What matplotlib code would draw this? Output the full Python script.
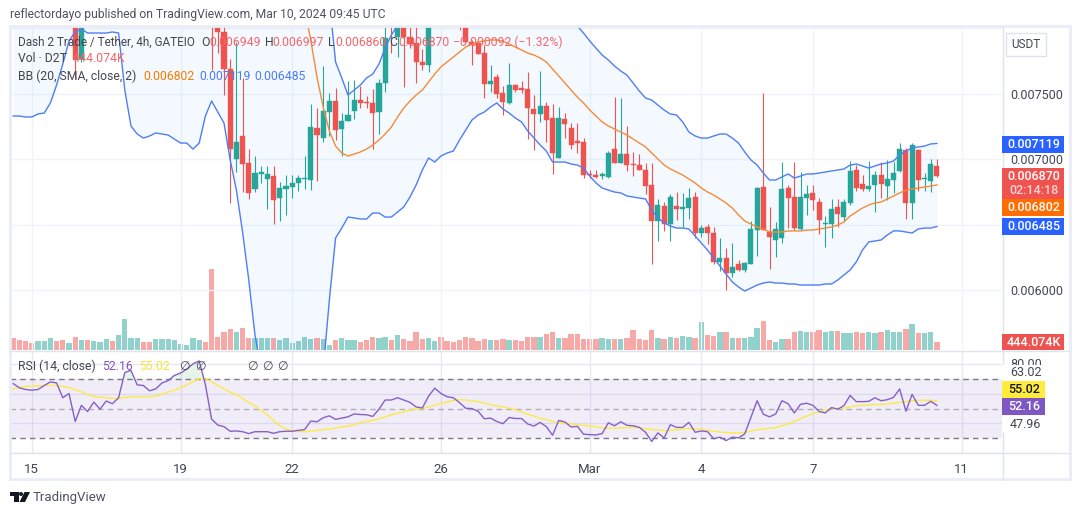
import numpy as np
import matplotlib
matplotlib.use('Agg')
import matplotlib.pyplot as plt
from matplotlib.patches import Rectangle, Polygon, Circle

plt.rcParams['font.family'] = ['Roboto', 'DejaVu Sans']
nan = float('nan')

# prices in millionths of USDT, nan = bar sits above the visible range
opens = [nan]*10 + [8100, 7764] + [nan]*20 + [
    8150, 8100, 7970, 7687, 7000, 7176, 6970, 6771, 6886, 6847, 6870, 6702, 6771, 6786, 6817, 6847, 6840, 7237,
    7160, 7359, 7443, 7229, 7290, 7367, 7450, 7435, 7428, 7359, 7580, 8100, 7932, 8050, 7932, 7886, 7741, 7718] + [nan]*4 + [
    8100, 8100, 7893, 7886, 7809, 7573, 7626, 7504, 7428, 7565, 7542, 7535, 7382, 7344, 7405, 7313, 7008, 7305,
    7237, 7138, 7130, 6886, 6878, 6870, 6863, 7076, 6970, 7038, 6962, 6954, 6916, 6802, 6527, 6641, 6504, 6641,
    6618, 6626, 6710, 6435, 6481, 6435, 6214, 6244, 6130, 6199, 6153, 6199, 6458, 6786, 6443, 6382, 6397, 6779,
    6710, 6466, 6702, 6741, 6672, 6504, 6504, 6634, 6557, 6664, 6916, 6809, 6771, 6802, 6878, 6794, 6840, 6909,
    7069, 6664, 7069, 6847, 6832, 6949]
highs = [nan]*10 + [8150, 8150] + [nan]*20 + [
    8200, 8150, 8050, 7764, 7893, 7619, 7076, 7023, 6947, 6947, 6947, 6825, 6878, 6878, 6878, 7023, 7420, 7389,
    7710, 7504, 7542, 7351, 7596, 7603, 7557, 7481, 7535, 7611, 8060, 8150, 8120, 8120, 8050, 8030, 7840, 8100] + [nan]*4 + [
    8120, 8120, 7909, 7901, 7870, 7718, 7649, 7557, 7733, 7573, 7596, 7664, 7489, 7672, 7435, 7420, 7397, 7351,
    7275, 7275, 7160, 6916, 6916, 6901, 7061, 7473, 7466, 7252, 7053, 7038, 6970, 6970, 6695, 6672, 6733, 6748,
    6741, 6779, 6748, 6496, 6504, 6481, 6397, 6321, 6359, 6229, 6214, 6527, 6786, 7504, 6634, 6519, 6977, 6802,
    6977, 6901, 6802, 6802, 6702, 6565, 6695, 6695, 6695, 6985, 6954, 6878, 6985, 6909, 6977, 6993, 6977, 7122,
    7084, 7122, 7076, 6893, 7000, 6997]
lows = [nan]*10 + [7611, 7741] + [nan]*20 + [
    7680, 7809, 7489, 6664, 6901, 6748, 6695, 6748, 6817, 6618, 6504, 6527, 6573, 6702, 6756, 6771, 6763, 6832,
    7130, 7176, 7145, 7023, 7290, 7305, 7389, 7389, 7076, 7191, 7512, 7809, 7779, 7550, 7848, 7580, 7680, 7664] + [nan]*4 + [
    7985, 7893, 7718, 7802, 7466, 7512, 7466, 7336, 7420, 7512, 7504, 7153, 7069, 7283, 7130, 6886, 7008, 7160,
    7076, 7046, 6855, 6855, 6855, 6847, 6855, 6970, 6970, 6909, 6870, 6916, 6733, 6199, 6374, 6450, 6374, 6534,
    6481, 6542, 6397, 6405, 6351, 6199, 6145, 6000, 6099, 6145, 6138, 6199, 6260, 6458, 6160, 6252, 6359, 6473,
    6458, 6458, 6573, 6611, 6428, 6328, 6397, 6481, 6527, 6649, 6756, 6756, 6756, 6596, 6702, 6687, 6741, 6901,
    6542, 6542, 6756, 6756, 6748, 6860]
closes = [nan]*10 + [7756, 8100] + [nan]*20 + [
    8060, 7970, 7687, 7076, 7130, 6962, 6741, 6893, 6901, 6886, 6687, 6779, 6794, 6817, 6855, 6855, 7244, 7183,
    7367, 7443, 7222, 7290, 7336, 7450, 7428, 7428, 7351, 7580, 7924, 8030, 8050, 7932, 7878, 7741, 7718, 8040] + [nan]*4 + [
    8050, 7893, 7870, 7802, 7573, 7596, 7496, 7435, 7565, 7527, 7527, 7389, 7344, 7405, 7298, 7046, 7313, 7267,
    7107, 7122, 6878, 6878, 6863, 6886, 7046, 6970, 7038, 6954, 6954, 6916, 6794, 6527, 6649, 6504, 6710, 6618,
    6634, 6702, 6435, 6473, 6435, 6214, 6244, 6130, 6176, 6153, 6206, 6466, 6779, 6458, 6405, 6466, 6771, 6702,
    6473, 6710, 6733, 6687, 6534, 6512, 6618, 6580, 6672, 6909, 6779, 6771, 6794, 6878, 6809, 6847, 6893, 7076,
    6664, 7107, 6840, 6855, 6962, 6870]

# Bollinger bands, same units
bb_upper = [nan]*51 + [
    8214, 7741, 7619, 7489, 7527, 7565, 7619, 7649, 7725, 7848, 7947, 8023] + [nan]*28 + [
    8016, 7962, 7901, 7848, 7794, 7756, 7710, 7672, 7641, 7580, 7519, 7466, 7450, 7412, 7374, 7344, 7336, 7283,
    7206, 7176, 7160, 7160, 7176, 7191, 7191, 7160, 7122, 7054, 6993, 6954, 6893, 6840, 6840, 6863, 6886, 6855,
    6870, 6886, 6886, 6893, 6901, 6909, 6916, 6924, 6954, 6962, 6947, 6931, 6947, 6962, 6970, 6985, 7031, 7061,
    7084, 7092, 7099, 7115, 7119]
bb_basis = [nan]*47 + [
    8140, 7909, 7626, 7397, 7214, 7099, 7046, 7023, 7038, 7054, 7076, 7107, 7145, 7191, 7244, 7321, 7389, 7443,
    7489, 7527, 7588, 7649, 7703, 7741, 7779, 7817, 7855, 7878, 7893, 7901, 7909, 7909, 7901, 7878, 7855, 7832,
    7809, 7794, 7771, 7741, 7687, 7634, 7580, 7527, 7473, 7428, 7374, 7328, 7283, 7252, 7229, 7206, 7183, 7153,
    7122, 7092, 7046, 7000, 6954, 6924, 6901, 6878, 6847, 6817, 6779, 6748, 6725, 6695, 6664, 6626, 6573, 6527,
    6504, 6481, 6466, 6443, 6443, 6443, 6451, 6451, 6451, 6458, 6458, 6466, 6473, 6481, 6496, 6519, 6565, 6596,
    6626, 6649, 6664, 6672, 6695, 6718, 6741, 6763, 6771, 6779, 6786, 6794, 6802]
bb_lower = [
    7328, 7328, 7321, 7321, 7344, 7351, 7428, 7565, 7725, 7901, 7970, 7993, 7962, 7962, 7962, 7962, 7970, 7962,
    7527, 7252, 7191, 7160, 7176, 7199, 7191, 7183, 7153, 7122, 7122, 7076, 7122, 7328, 7443, 7359, 7275, 6993,
    6763, 6443, 6076, 5657, 5389] + [nan]*9 + [
    5389, 5924, 6397, 6473, 6557, 6550, 6542, 6542, 6588, 6588, 6557, 6557, 6596, 6634, 6710, 6802, 6916, 7008,
    6977, 7023, 7046, 7061, 7145, 7222, 7298, 7336, 7359, 7397, 7428, 7382, 7351, 7313, 7283, 7214, 7160, 7107,
    7061, 6977, 6977, 6977, 6962, 6954, 6931, 6870, 6817, 6779, 6763, 6748, 6741, 6718, 6710, 6702, 6695, 6611,
    6550, 6512, 6489, 6473, 6473, 6466, 6412, 6359, 6305, 6244, 6183, 6122, 6061, 6023, 5992, 6015, 6038, 6053,
    6061, 6053, 6053, 6046, 6046, 6038, 6038, 6038, 6038, 6046, 6046, 6076, 6115, 6153, 6214, 6305, 6367, 6374,
    6382, 6420, 6451, 6451, 6443, 6435, 6466, 6473, 6473, 6485]

# volume in thousands of D2T
volumes = [
    666, 555, 516, 405, 500, 500, 666, 516, 555, 405, 722, 555, 555, 500, 444, 611, 500, 833, 1721, 666, 666, 444,
    444, 594, 611, 611, 555, 333, 278, 666, 555, 444, 4496, 722, 999, 1166, 999, 1221, 666, 666, 666, 666, 666, 555,
    666, 389, 500, 722, 611, 666, 611, 278, 555, 666, 555, 555, 444, 555, 722, 666, 722, 555, 833, 611, 500, 999,
    611, 666, 500, 722, 500, 444, 555, 722, 666, 500, 611, 555, 555, 611, 555, 555, 500, 722, 722, 722, 888, 999,
    666, 666, 888, 888, 611, 611, 611, 666, 611, 611, 611, 666, 1110, 611, 555, 1110, 666, 611, 722, 666, 777, 722,
    666, 1554, 833, 777, 999, 999, 666, 666, 666, 722, 1221, 1610, 555, 444, 611, 611, 999, 1055, 999, 999, 1110,
    999, 1055, 1055, 944, 944, 999, 944, 999, 944, 999, 1110, 999, 999, 1166, 1443, 944, 944, 999, 444]
vol_dir = ("rrrr ggg rr g r g r ggg r gggg rr gggggggg rrrrr g rr ggg r gggggg r gg r ggg rrr gg r g rrrr gg "
           "rrrrrrrr g rr g rrrr g rr g rrrrrr gg r g rrrrr g r g r gg r g rr g r g r ggg rr gg rr gg rr gg r gg "
           "rr gg r ggg r g r gg r").replace(" ", "")

rsi = [
    66.9, 64, 62.9, 62.4, 62.9, 65.6, 68, 67.3, 57.3, 60.2, 41.3, 52.2, 48, 54.4, 49.6, 55.1, 53.3, 57.3, 74.4, 75.8,
    66, 65.6, 62, 63.3, 67.3, 68.9, 72.4, 74, 76.7, 80.2, 82.2, 66.2, 42.9, 38.9, 37.8, 34.7, 34.9, 34.4, 33.1, 34.4,
    34.4, 34.4, 33.3, 34.4, 34.7, 34.7, 35.3, 35.8, 41.6, 41.1, 43.8, 45.1, 42.7, 43.6, 44.4, 46.4, 46, 45.8, 44.7, 49.6,
    55.8, 55.8, 57.3, 55.8, 54.2, 51.1, 50.4, 58.4, 63.8, 60.2, 58, 57.3, 54, 50.2, 50, 48.2, 43.1, 43.6, 41.3, 39.8,
    44, 43.3, 43.3, 39.6, 38.2, 40.7, 37.8, 32, 42, 40.9, 37.6, 38, 32.7, 32.4, 32.2, 33.1, 40.4, 38.4, 41.1, 38.7,
    38.4, 37.3, 34, 27.8, 33.6, 30.2, 39.1, 37.3, 37.3, 40.7, 34, 34.9, 34.4, 29.6, 30.7, 28.4, 30.7, 30.2, 32.9, 44,
    55.3, 46.2, 44.4, 46.4, 55.3, 53.3, 47.1, 52.9, 53.6, 52.2, 48, 47.1, 50.7, 49.6, 52, 58.9, 54.7, 54.7, 54.9, 57.3,
    55.3, 56, 57.6, 63.3, 48.2, 59.6, 52.2, 52.2, 54.9, 52.16]
rsi_ma = [
    63.3, 64.4, 64.9, 65.3, 65.3, 65.6, 65.6, 65.6, 64.9, 64.2, 62.7, 61.3, 59.6, 58.2, 57.8, 57.3, 56.9, 56.7, 57.6, 58,
    58, 58, 58, 58.4, 59.8, 61.1, 62.4, 64.2, 66, 68.2, 70.2, 70.4, 68, 65.6, 63.3, 61.1, 59.3, 56.9, 54.2, 51.6,
    48.7, 45.8, 42, 38.4, 36.2, 35.1, 34.7, 34.4, 34.9, 35.3, 35.8, 36.2, 36.9, 37.6, 38.2, 38.9, 40.7, 41.3, 42, 43.1,
    44.4, 45.8, 46.9, 47.8, 48.9, 49.6, 50, 51.1, 52.4, 53.6, 54.4, 55.6, 56, 55.8, 55.3, 54.7, 53.6, 52.7, 51.8, 51.1,
    50.2, 49.3, 47.8, 46.2, 44.9, 43.6, 42.4, 41.3, 40.4, 40, 39.6, 39.1, 38.7, 38.2, 37.8, 37.1, 36.7, 36.7, 36.9, 37.1,
    37.3, 37.1, 36.4, 35.8, 35.6, 35.1, 35.3, 35.8, 36.2, 36.7, 36.2, 36, 35.3, 34.7, 34.2, 33.8, 33.6, 33.6, 33.8, 34.9,
    35.8, 36.2, 36.7, 37.1, 38.4, 39.8, 41.3, 43.1, 44.9, 46.7, 47.8, 49.1, 50, 50, 50.4, 51.1, 52, 52.2, 52.4, 52.7,
    52.9, 53.1, 53.6, 54.2, 54.7, 55.3, 55.6, 55.6, 55.6, 55.02]

date_bars = [3, 27, 45, 69, 93, 111, 129, 153]
date_labels = ['15', '19', '22', '26', 'Mar', '4', '7', '11']
price_ticks = [6000, 6500, 7000, 7500, 8000]
price_labels = ['0.006000', '', '0.007000', '0.007500', '']
rsi_grid = [20, 40, 60, 80]

GREEN, RED = '#26a69a', '#ef5350'
GRID = '#f0f3fa'
TEXT = '#434651'
BLUE, ORANGE = '#4f7ef5', '#f88a35'

o, h, l, c = [np.array(a, dtype=float) * 1e-6 for a in (opens, highs, lows, closes)]
upper, basis, lower = [np.array(a, dtype=float) * 1e-6 for a in (bb_upper, bb_basis, bb_lower)]
bars = np.arange(len(c))
y_lo, y_hi = 0.005542, 0.008008
x_lo, x_hi = -0.516, 159.5

W, H = 1080, 515
fig = plt.figure(figsize=(W / 100, H / 100), dpi=100, facecolor='white')


def pane(left, top, right, bottom, **kw):
    return fig.add_axes([left / W, 1 - bottom / H, (right - left) / W, (bottom - top) / H], **kw)


# volume sits behind the price axes
ax_vol = pane(10, 27, 1002, 350)
ax_vol.bar(bars, volumes, width=0.86, color=['#92d2cc' if d == 'g' else '#f7a9a7' for d in vol_dir], zorder=2)
ax_vol.set_ylim(0, 17927)
ax_vol.set_xlim(x_lo, x_hi)
ax_vol.axis('off')

ax = pane(10, 27, 1002, 350, sharex=ax_vol)
ax.patch.set_alpha(0)
ax.set_ylim(y_lo, y_hi)
ax.set_yticks(np.array(price_ticks) * 1e-6, price_labels)
ax.yaxis.tick_right()
ax.tick_params(axis='y', length=0, pad=6, labelsize=9, labelcolor=TEXT)
ax.tick_params(axis='x', length=0, labelbottom=False)
ax.set_xticks(date_bars)
ax.grid(color=GRID, lw=1)
ax.set_axisbelow(True)
for s in ax.spines.values():
    s.set_visible(False)

ax.fill_between(bars, np.where(np.isnan(lower), y_lo, lower), np.where(np.isnan(upper), y_hi, upper),
                color='#2196f3', alpha=0.05, lw=0, zorder=1)
up = c >= o
cols = np.where(up, GREEN, RED)
ax.vlines(bars, l, h, colors=cols, lw=0.8, zorder=3)
ax.bar(bars, np.abs(c - o), bottom=np.minimum(o, c), width=0.82, color=cols, edgecolor=cols, lw=0.3, zorder=3)
ax.plot(bars, upper, color=BLUE, lw=1, zorder=4)
ax.plot(bars, lower, color=BLUE, lw=1, zorder=4)
ax.plot(bars, basis, color=ORANGE, lw=1, zorder=4)

ax_rsi = pane(10, 351, 1002, 453, sharex=ax_vol)
ax_rsi.set_ylim(20.9, 88.9)
ax_rsi.set_yticks(rsi_grid)
ax_rsi.set_xticks(date_bars, date_labels)
ax_rsi.tick_params(axis='y', length=0, labelright=False, labelleft=False)
ax_rsi.tick_params(axis='x', length=0, pad=7, labelsize=9.5, labelcolor=TEXT)
ax_rsi.grid(color='#e9e7f2', lw=1)
ax_rsi.set_axisbelow(True)
for s in ax_rsi.spines.values():
    s.set_visible(False)
ax_rsi.axhspan(30, 70, color='#7e57c2', alpha=0.1, lw=0, zorder=1)
ax_rsi.axhline(70, color='#787b86', lw=1, dashes=(4, 3), zorder=2)
ax_rsi.axhline(50, color='#b0adbb', lw=1, dashes=(4, 3), zorder=2)
ax_rsi.axhline(30, color='#787b86', lw=1, dashes=(4, 3), zorder=2)
rsi_arr = np.array(rsi)
ax_rsi.fill_between(bars, 70, rsi_arr, where=rsi_arr > 70, interpolate=True, color='#4caf50', alpha=0.13, lw=0)
ax_rsi.plot(bars, rsi_ma, color='#fdea45', lw=1, zorder=3)
ax_rsi.plot(bars, rsi, color='#8560c8', lw=1, zorder=4)

# everything else is laid out in picture pixels
ov = fig.add_axes([0, 0, 1, 1], zorder=10)
ov.set_xlim(0, W)
ov.set_ylim(H, 0)
ov.axis('off')
ov.patch.set_alpha(0)


def label(x, y, s, color=TEXT, size=8.8, **kw):
    ov.text(x, y, s, color=color, fontsize=size, va='center', ha=kw.pop('ha', 'left'), **kw)


def tag(top, bottom, color, s, fg='white', right=1064):
    ov.add_patch(Rectangle((1002, top), right - 1002, bottom - top, fc=color, ec='none', zorder=3))
    ov.text(1034 if right > 1050 else 1024, (top + bottom) / 2, s, color=fg, fontsize=9, fontweight='medium',
            ha='center', va='center', zorder=4)


ov.add_patch(Rectangle((9.5, 26), 1060, 453, fc='none', ec='#eaedf5', lw=2))
ov.plot([10, 1069], [350.5, 350.5], color='#e0e3eb', lw=1)
ov.plot([10, 1069], [452.5, 452.5], color='#e0e3eb', lw=1)
ov.plot([1002.5, 1002.5], [27, 479], color='#e0e3eb', lw=1)

label(10, 14.5, 'reflectordayo published on TradingView.com, Mar 10, 2024 09:45 UTC', color='#50535e', size=8.72)

LEG_RED = '#f4666b'
label(18, 42, 'Dash 2 Trade / Tether, 4h, GATEIO', size=8.45)
for x, s in [(201, 'O'), (265, 'H'), (328, 'L'), (389, 'C')]:
    label(x, 42, s)
for x, s in [(209, '0.006949'), (272, '0.006997'), (335, '0.006860'), (398, '0.006870'), (453, '\u22120.000092 (\u22121.32%)')]:
    label(x, 42, s, color=LEG_RED)
label(18, 59, 'Vol \u00b7 D2T')
label(73, 59, '444.074K', color=LEG_RED)
label(18, 76, 'BB (20, SMA, close, 2)')
label(143, 76, '0.006802', color='#f57c00')
label(199, 76, '0.007119', color='#4d7cf5')
label(254, 76, '0.006485', color='#4d7cf5')

label(18, 366, 'RSI (14, close)')
label(102, 366, '52.16', color='#7e57c2')
label(139, 366, '55.02', color='#f5e33a')
for x in [179, 195, 247, 262, 277]:
    label(x, 366, '\u2205')

ov.add_patch(Rectangle((1006, 33), 40, 23, fc='white', ec='#e0e3eb', lw=1))
label(1026, 44.5, 'USDT', ha='center', size=8.5)

tag(136, 153, '#2962ff', '0.007119')
ov.add_patch(Rectangle((1002, 168), 62, 31, fc=RED, ec='none', zorder=3))
ov.text(1034, 176.5, '0.006870', color='white', fontsize=9, fontweight='medium', ha='center', va='center', zorder=4)
ov.text(1034, 190.5, '02:14:18', color='#fbd5d4', fontsize=9, fontweight='medium', ha='center', va='center', zorder=4)
tag(199, 216, '#ff6d00', '0.006802')
tag(218, 235, '#2962ff', '0.006485')
tag(334, 350, RED, '444.074K')

# the 80.00 scale label is half hidden by the 63.02 plate, as in the original
label(1010, 364.5, '80.00', size=9, zorder=1)
ov.add_patch(Rectangle((1002, 365), 43, 16, fc='white', ec='none', zorder=2))
label(1010, 372.5, '63.02', size=9, zorder=3)
tag(381, 398, '#ffeb3b', '55.02', fg='#131722', right=1045)
tag(398, 415, '#7e57c2', '52.16', right=1045)
ov.add_patch(Rectangle((1002, 415), 43, 17, fc='white', ec='none', zorder=2))
label(1010, 424, '47.96', size=9, zorder=3)

# TradingView mark and wordmark
ov.add_patch(Polygon([(10, 492), (18.5, 492), (18.5, 502), (14, 502), (14, 496), (10, 496)], fc='#131722', ec='none'))
ov.add_patch(Circle((21, 494), 2, fc='#131722', ec='none'))
ov.add_patch(Polygon([(24.5, 492), (30, 492), (25, 502), (19.5, 502)], fc='#131722', ec='none'))
label(33, 497.5, 'TradingView', color='#50535e', size=9.5)

fig.savefig('out.png', dpi=100)
